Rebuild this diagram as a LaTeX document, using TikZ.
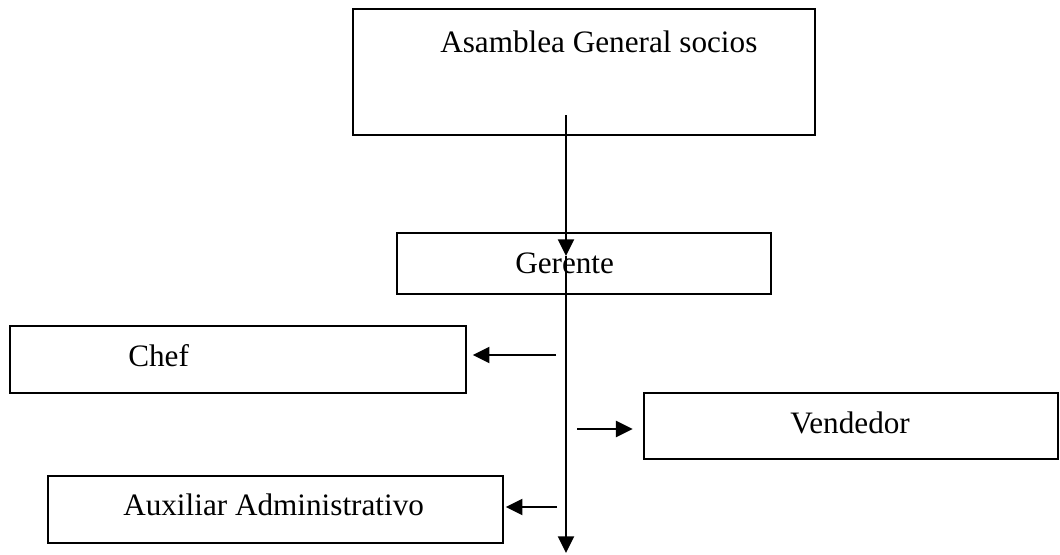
\documentclass[tikz,border=0pt]{standalone}
\usepackage{fontspec}
\setmainfont{Liberation Serif}
\usetikzlibrary{arrows.meta}

\begin{document}
\begin{tikzpicture}[x=0.75pt,y=0.75pt,yscale=-1,xscale=1,
	cargo/.style={draw, line width=1.1pt, rectangle, inner sep=0pt},
	rotulo/.style={anchor=base west, inner sep=0pt, font=\fontsize{23.4}{28}\selectfont},
	flecha/.style={line width=1.6pt, -{Triangle[length=12.5pt,width=12pt]}}]
	\useasboundingbox (0,0) rectangle (1060,554);
	\node [cargo, minimum width=346.5pt, minimum height=94.5pt] (asamblea) at (584,72) {};
	\node [cargo, minimum width=280.5pt, minimum height=45.75pt] (gerente) at (584,263.5) {};
	\node [cargo, minimum width=342pt, minimum height=50.25pt] (chef) at (238,359.5) {};
	\node [cargo, minimum width=310.5pt, minimum height=49.5pt] (vendedor) at (851,426) {};
	\node [cargo, minimum width=341.25pt, minimum height=50.25pt] (aux) at (275.5,509.5) {};
	\node [rotulo] (tasamblea) at (440,52) {Asamblea General socios};
	\node [rotulo] (tgerente) at (515,273) {Gerente};
	\node [rotulo] (tchef) at (128,366) {Chef};
	\node [rotulo] (tvendedor) at (790,433) {Vendedor};
	\node [rotulo] (taux) at (123,515) {Auxiliar Administrativo};
	\coordinate (s1) at (566,115);
	\coordinate (s2) at (566,256);
	\coordinate (s3) at (566,553);
	\coordinate (h1) at (556,355);
	\coordinate (h2) at (577,429);
	\coordinate (h3) at (557,507);
	\draw [flecha] (s1) -- (s2);
	\draw [flecha] (s2) -- (s3);
	\draw [flecha, shorten >=4.5pt] (h1) -- (h1 -| chef.east);
	\draw [flecha, shorten >=8pt] (h2) -- (h2 -| vendedor.west);
	\draw [flecha, shorten >=1.5pt] (h3) -- (h3 -| aux.east);
\end{tikzpicture}
\end{document}
